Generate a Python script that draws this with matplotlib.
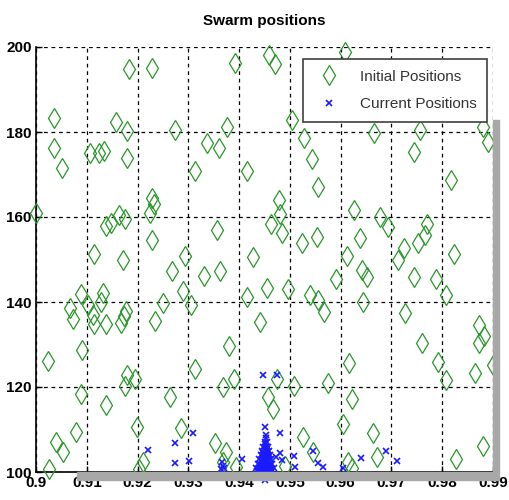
import numpy as np
import matplotlib
matplotlib.use("Agg")
import matplotlib.pyplot as plt
from matplotlib.patches import Rectangle

plt.rcParams['font.family'] = ['Liberation Sans', 'DejaVu Sans']

# initial positions (green diamonds)
init_x = [0.9035, 0.9183, 0.9228, 0.9157, 0.9180, 0.9274, 0.9392, 0.9459, 0.9470, 0.9376,
          0.9504, 0.9528, 0.9608, 0.9543, 0.9555, 0.9478, 0.9480, 0.9463, 0.9484, 0.9427,
          0.9455, 0.9496, 0.9524, 0.9553, 0.9540, 0.9555, 0.9567, 0.9612, 0.9626, 0.9638,
          0.9642, 0.9652, 0.9590, 0.9665, 0.9677, 0.9693, 0.9756, 0.9744, 0.9713, 0.9724,
          0.9752, 0.9766, 0.9770, 0.9744, 0.9787, 0.9817, 0.9823, 0.9807, 0.9890, 0.9035,
          0.9051, 0.9106, 0.9124, 0.9134, 0.9180, 0.9000, 0.9138, 0.9148, 0.9163, 0.9175,
          0.9114, 0.9171, 0.9228, 0.9232, 0.9224, 0.9228, 0.9268, 0.9293, 0.9289, 0.9313,
          0.9337, 0.9360, 0.9356, 0.9331, 0.9362, 0.9415, 0.9415, 0.9089, 0.9132, 0.9128,
          0.9067, 0.9073, 0.9102, 0.9112, 0.9114, 0.9138, 0.9167, 0.9173, 0.9177, 0.9234,
          0.9250, 0.9305, 0.9441, 0.9024, 0.9091, 0.9180, 0.9175, 0.9195, 0.9089, 0.9138,
          0.9264, 0.9313, 0.9380, 0.9390, 0.9368, 0.9199, 0.9285, 0.9079, 0.9039, 0.9053,
          0.9352, 0.9374, 0.9644, 0.9726, 0.9760, 0.9791, 0.9872, 0.9882, 0.9872, 0.9900,
          0.9864, 0.9616, 0.9575, 0.9508, 0.9807, 0.9474, 0.9457, 0.9467, 0.9622, 0.9604,
          0.9663, 0.9526, 0.9545, 0.9880, 0.9026, 0.9210, 0.9203, 0.9368, 0.9394, 0.9490,
          0.9614, 0.9622, 0.9671, 0.9827, 0.9880]
init_y = [183.3, 194.8, 195.0, 182.4, 180.2, 180.4, 196.2, 198.1, 196.0, 181.2,
          182.8, 178.6, 198.8, 173.6, 167.0, 164.0, 160.7, 158.4, 156.2, 150.6,
          143.3, 143.0, 153.9, 155.3, 141.6, 140.5, 137.6, 150.8, 161.6, 155.0,
          147.5, 145.9, 145.4, 179.8, 160.0, 157.6, 180.5, 175.3, 150.0, 152.7,
          154.0, 155.8, 158.4, 145.9, 145.4, 168.7, 151.3, 141.6, 177.6, 176.2,
          171.5, 175.0, 175.0, 175.5, 174.0, 161.0, 157.9, 158.6, 160.5, 159.5,
          151.3, 149.9, 164.5, 163.0, 161.0, 154.6, 147.3, 150.8, 142.6, 170.8,
          177.4, 176.2, 157.0, 146.1, 147.3, 170.8, 141.2, 141.9, 142.1, 140.0,
          138.6, 136.0, 139.3, 137.0, 134.8, 134.8, 135.0, 136.7, 138.0, 135.5,
          139.8, 139.3, 135.3, 126.1, 128.7, 122.8, 120.2, 121.9, 118.4, 115.8,
          117.6, 124.2, 129.6, 121.9, 120.0, 110.6, 110.4, 109.4, 107.0, 104.7,
          106.8, 104.7, 140.0, 137.4, 130.4, 125.9, 134.6, 132.0, 130.4, 125.2,
          123.3, 125.6, 120.9, 120.2, 121.6, 121.9, 117.6, 114.8, 117.2, 111.3,
          109.2, 108.2, 104.7, 106.1, 100.7, 102.4, 100.7, 102.4, 101.2, 101.4,
          102.4, 101.0, 103.5, 103.1, 181.2]

# current positions (blue crosses)
cur_x = [0.9221, 0.9274, 0.9274, 0.9309, 0.9301, 0.9366, 0.9368, 0.9370, 0.9365, 0.9406,
         0.9451, 0.9480, 0.9481, 0.9473, 0.9485, 0.9508, 0.9510, 0.9545, 0.9555, 0.9565,
         0.9604, 0.9640, 0.9689, 0.9711, 0.9447, 0.9474, 0.9452, 0.9452,
         0.9450, 0.9455, 0.9448, 0.9452, 0.9457, 0.9446, 0.9450, 0.9454, 0.9458,
         0.9444, 0.9448, 0.9452, 0.9456, 0.9460, 0.9440, 0.9445, 0.9449, 0.9453, 0.9458, 0.9462,
         0.9437, 0.9442, 0.9447, 0.9451, 0.9455, 0.9460, 0.9465,
         0.9433, 0.9439, 0.9444, 0.9449, 0.9453, 0.9458, 0.9463, 0.9468,
         0.9436, 0.9441, 0.9446, 0.9450, 0.9455, 0.9460, 0.9464,
         0.9450, 0.9454, 0.9447, 0.9451, 0.9456, 0.9444, 0.9449, 0.9453, 0.9461,
         0.9448, 0.9451]
cur_y = [105.2, 106.8, 102.1, 109.2, 102.6, 102.4, 101.5, 101.0, 100.6, 103.0,
         110.6, 109.2, 104.5, 103.5, 102.8, 103.8, 101.2, 105.0, 102.1, 101.2,
         101.0, 103.3, 105.0, 102.6, 122.8, 122.8, 108.0, 108.8,
         107.0, 107.0, 106.0, 106.0, 106.0, 105.0, 105.0, 105.0, 105.0,
         104.0, 104.0, 104.0, 104.0, 104.0, 103.0, 103.0, 103.0, 103.0, 103.0, 103.0,
         102.0, 102.0, 102.0, 102.0, 102.0, 102.0, 102.0,
         101.0, 101.0, 101.0, 101.0, 101.0, 101.0, 101.0, 101.0,
         100.3, 100.3, 100.3, 100.3, 100.3, 100.3, 100.3,
         106.5, 105.5, 104.5, 103.5, 103.5, 102.5, 101.5, 101.5, 101.5,
         99.0, 98.2]

xticks = [0.9, 0.91, 0.92, 0.93, 0.94, 0.95, 0.96, 0.97, 0.98, 0.99]
xticklabels = ['0.9', '0.91', '0.92', '0.93', '0.94', '0.95', '0.96', '0.97', '0.98', '0.99']
yticks = [100, 120, 140, 160, 180, 200]

fig = plt.figure(figsize=(5.09, 5.0), dpi=100)
ax = fig.add_axes([0.0707, 0.056, 0.8979, 0.850])

# grey shadow left over from the screenshot
fig.patches.append(Rectangle((0.152, 0.040), 0.817, 0.016, transform=fig.transFigure,
                             color='#a8a8a8', zorder=0))
fig.patches.append(Rectangle((0.969, 0.040), 0.011, 0.72, transform=fig.transFigure,
                             color='#a8a8a8', zorder=0))

ax.plot(init_x, init_y, linestyle='none', marker='d', markersize=10,
        markerfacecolor='none', markeredgecolor='#2a962a', markeredgewidth=0.9,
        label='Initial Positions', clip_on=False, zorder=3)
ax.plot(cur_x, cur_y, linestyle='none', marker='x', markersize=4.5,
        color='#1a1aff', markeredgewidth=1.2,
        label='Current Positions', clip_on=False, zorder=4)

ax.set_xlim(0.9, 0.99)
ax.set_ylim(100, 200)
ax.set_xticks(xticks)
ax.set_xticklabels(xticklabels)
ax.set_yticks(yticks)
for lab in ax.get_xticklabels() + ax.get_yticklabels():
    lab.set_fontweight('bold')
    lab.set_fontsize(11)
ax.tick_params(direction='in', length=4, width=1, pad=3)

ax.grid(True, color='black', linestyle=(0, (3, 3)), linewidth=0.9)
ax.set_axisbelow(True)
ax.spines['top'].set_visible(False)
ax.spines['right'].set_visible(False)
ax.spines['left'].set_linewidth(1.2)
ax.spines['bottom'].set_linewidth(1.2)

ax.set_title('Swarm positions', fontweight='bold', fontsize=11, pad=16)

leg = ax.legend(loc='upper right', bbox_to_anchor=(0.987, 0.972), fancybox=False,
                framealpha=1, edgecolor='#404040', fontsize=11, borderpad=0.7,
                labelspacing=0.9, handlelength=2.0, handletextpad=1.0, borderaxespad=0)
leg.get_frame().set_linewidth(1.2)
leg.set_zorder(10)
for t in leg.get_texts():
    t.set_color('#333333')

fig.savefig('out.png', dpi=100)
